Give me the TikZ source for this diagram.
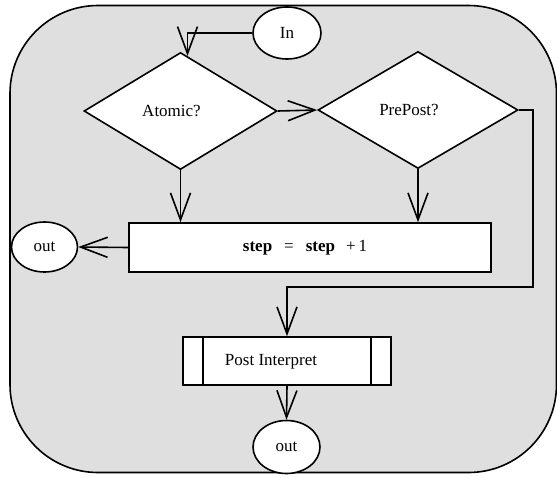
\documentclass[tikz,border=0pt]{standalone}
\usepackage{fontspec}
\setmainfont{Liberation Serif}
\usetikzlibrary{shapes.geometric,arrows.meta,calc}
\definecolor{panel}{HTML}{DFDFDF}
\tikzset{
  base/.style={draw=black, line width=1.6pt, fill=white, inner sep=0pt,
    font=\fontsize{17}{20}\selectfont},
  decision/.style={base, diamond, minimum width=#1, minimum height=117pt},
  terminal/.style={base, ellipse, minimum width=68pt, minimum height=52pt},
  process/.style={base, rectangle},
  flow/.style={line width=1.6pt, -{Straight Barb[length=27pt,width=20pt,line width=1.6pt]}},
  plain/.style={line width=1.6pt}
}
% question text set a little left of and below the diamond centre
\newcommand{\asktext}[1]{\raisebox{-3pt}{#1}\hspace*{18pt}}
\begin{document}
\begin{tikzpicture}[x=1pt,y=-1pt]
\useasboundingbox (0,0) rectangle (557,477);
% rounded grey panel
\draw[plain, fill=panel, rounded corners=88pt] (10,5.5) rectangle (556.5,472.5);

% nodes
\node[terminal] (in) at (287,33) {In};
\node[decision=193pt] (atomic) at (180.5,111) {\asktext{Atomic?}};
\node[decision=200pt] (prepost) at (418,110) {\asktext{PrePost?}};
\node[process, minimum width=362pt, minimum height=49pt] (stepbox) at (310,247.5)
  {\textbf{step}\hspace{12pt}=\hspace{12pt}\textbf{step}\hspace{11pt}+\,1\hspace*{10pt}};
\node[terminal, minimum width=66pt, minimum height=50pt] (outleft) at (44.5,247) {out};
\node[process, minimum width=208pt, minimum height=48pt] (post) at (287,361) {};
\draw[plain] ($(post.north west)+(21,0)$) -- ($(post.south west)+(21,0)$);
\draw[plain] ($(post.north east)+(-21,0)$) -- ($(post.south east)+(-21,0)$);
\node[font=\fontsize{17}{20}\selectfont] (posttext) at (271,362) {Post Interpret};
\node[terminal, minimum width=67pt, minimum height=53pt] (outbottom) at (286.5,447) {out};

% connectors
\draw[flow] (in.west) -| ($(atomic.north)+(7,4.2)$);
\draw[flow] (atomic.east) -- (prepost.west);
\draw[flow] (atomic.south) -- (atomic.south |- stepbox.north);
\draw[flow] (prepost.south) -- (prepost.south |- stepbox.north);
\draw[flow] (stepbox.west) -- (outleft.east);
\coordinate (bend) at (533,287);
\draw[flow] (prepost.east) -| (bend) -| (post.north);
\draw[flow] (post.south) -- (outbottom.north);
\end{tikzpicture}
\end{document}
